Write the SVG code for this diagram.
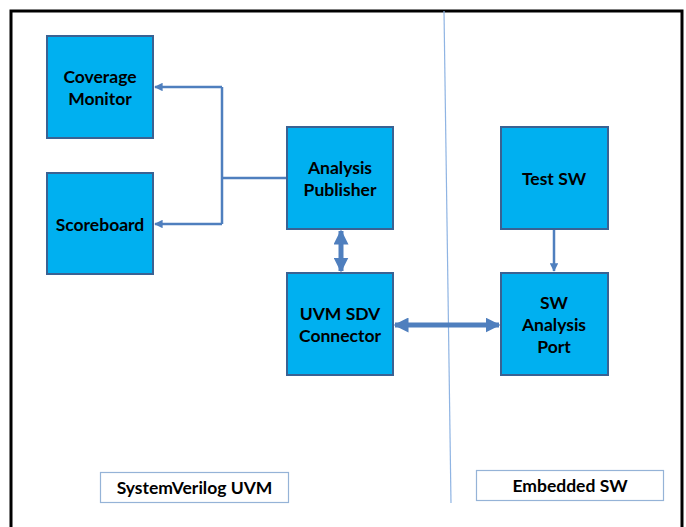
<svg xmlns="http://www.w3.org/2000/svg" width="686" height="527" viewBox="0 0 686 527">
  <style>
    .box { fill: #00b0f0; stroke: #3a6293; stroke-width: 2; }
    .lbl { font-family: Lato, "Liberation Sans", sans-serif; font-weight: bold; font-size: 17.5px; fill: #000; text-anchor: middle; }
    .tag { fill: #fff; stroke: #95b3d7; stroke-width: 1.2; }
    .wire { fill: none; stroke: #4f7fbe; stroke-width: 2.5; }
    .bus { fill: none; stroke: #4f7fbe; stroke-width: 5; }
  </style>
  <defs>
    <marker id="head" viewBox="0 0 10 10" refX="9" refY="5" markerWidth="3.4" markerHeight="3.4" orient="auto-start-reverse" markerUnits="strokeWidth">
      <path d="M0,0 L10,5 L0,10 Z" fill="#4f7fbe"/>
    </marker>
    <marker id="bighead" viewBox="0 0 10 10" refX="9" refY="5" markerWidth="3" markerHeight="3" orient="auto-start-reverse" markerUnits="strokeWidth">
      <path d="M0,0 L10,5 L0,10 Z" fill="#4f7fbe"/>
    </marker>
  </defs>

  <rect width="686" height="527" fill="#fff"/>
  <!-- frame (open at the bottom) -->
  <path d="M11,527 L11,11 L682,11 L682,527" fill="none" stroke="#000" stroke-width="3"/>
  <!-- domain divider -->
  <line x1="444" y1="11" x2="451" y2="503" stroke="#8fb4e3" stroke-width="1.2"/>

  <g id="connectors">
    <path class="wire" d="M287,178 L222,178"/>
    <path class="wire" d="M222,87 L222,224"/>
    <path class="wire" d="M222,87 L155,87" marker-end="url(#head)"/>
    <path class="wire" d="M222,224 L155,224" marker-end="url(#head)"/>
    <path class="bus" d="M341,231 L341,271" marker-start="url(#bighead)" marker-end="url(#bighead)"/>
    <path class="bus" d="M395,325 L499,325" marker-start="url(#bighead)" marker-end="url(#bighead)"/>
    <path class="wire" d="M554,230 L554,271" marker-end="url(#head)"/>
  </g>

  <g id="coverage-monitor">
    <rect class="box" x="47" y="36" width="106" height="102"/>
    <text class="lbl" x="100" y="83">Coverage</text>
    <text class="lbl" x="100" y="105">Monitor</text>
  </g>
  <g id="scoreboard">
    <rect class="box" x="47" y="173" width="106" height="101"/>
    <text class="lbl" x="100" y="231">Scoreboard</text>
  </g>
  <g id="analysis-publisher">
    <rect class="box" x="287" y="127" width="106" height="102"/>
    <text class="lbl" x="340" y="174">Analysis</text>
    <text class="lbl" x="340" y="196">Publisher</text>
  </g>
  <g id="uvm-sdv-connector">
    <rect class="box" x="287" y="273" width="106" height="102"/>
    <text class="lbl" x="340" y="320">UVM SDV</text>
    <text class="lbl" x="340" y="342">Connector</text>
  </g>
  <g id="test-sw">
    <rect class="box" x="501" y="127" width="107" height="102"/>
    <text class="lbl" x="554" y="185">Test SW</text>
  </g>
  <g id="sw-analysis-port">
    <rect class="box" x="501" y="273" width="107" height="102"/>
    <text class="lbl" x="554" y="309">SW</text>
    <text class="lbl" x="554" y="331">Analysis</text>
    <text class="lbl" x="554" y="353">Port</text>
  </g>

  <g id="systemverilog-uvm">
    <rect class="tag" x="100.5" y="472.5" width="188" height="30"/>
    <text class="lbl" x="194.5" y="494">SystemVerilog UVM</text>
  </g>
  <g id="embedded-sw">
    <rect class="tag" x="476.5" y="470.5" width="187" height="30"/>
    <text class="lbl" x="570" y="492">Embedded SW</text>
  </g>
</svg>
